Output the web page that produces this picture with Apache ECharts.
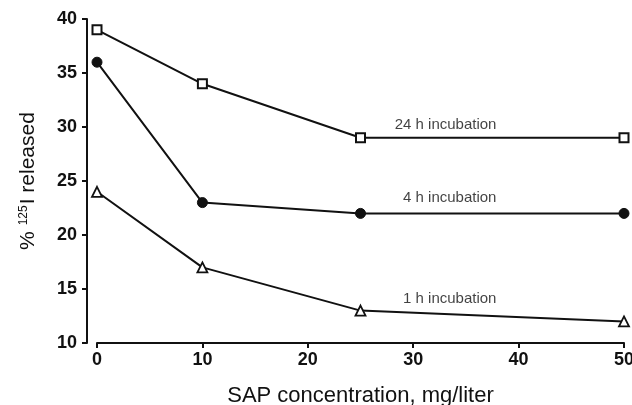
<!DOCTYPE html>
<html>
<head>
<meta charset="utf-8">
<script src="https://cdn.jsdelivr.net/npm/echarts@6/dist/echarts.min.js"></script>
<style>
  html, body { margin: 0; padding: 0; background: #fff; }
  #chart { width: 632px; height: 405px; }
</style>
</head>
<body>
<div id="chart"></div>
<script>
// SAP concentration, mg/liter
var sapConc = [0, 10, 25, 50]
// % 125I released
var h24 = [39, 34, 29, 29]
var h4 = [36, 23, 22, 22]
var h1 = [24, 17, 13, 12]
var xTicks = [0, 10, 20, 30, 40, 50]
var yTicks = [10, 15, 20, 25, 30, 35, 40]
// curve labels: [name, x, y] (text is right aligned at x)
var curveLabels = [
  ['24 h incubation', 37.9, 30.2],
  ['4 h incubation', 37.9, 23.4],
  ['1 h incubation', 37.9, 14.1]
]

function pairs(ys) {
  var out = []
  for (var i = 0; i < sapConc.length; i++) {
    out.push([sapConc[i], ys[i]])
  }
  return out
}

var font = 'Liberation Sans, Arial, Helvetica, sans-serif'
var ink = '#111'

var chart = echarts.init(document.getElementById('chart'), null, { renderer: 'canvas' })
var option = {
  backgroundColor: '#fff',
  animation: false,
  grid: { left: 97, right: 8, top: 19, bottom: 62, containLabel: false, outerBoundsMode: 'none' },
  xAxis: {
    type: 'value',
    min: xTicks[0],
    max: xTicks[xTicks.length - 1],
    interval: 10,
    name: 'SAP concentration, mg/liter',
    nameLocation: 'middle',
    nameGap: 42,
    nameTextStyle: { fontFamily: font, fontSize: 22, color: ink },
    axisLine: { onZero: false, lineStyle: { color: ink, width: 2 } },
    axisTick: { inside: false, length: 5, lineStyle: { color: ink, width: 2 } },
    axisLabel: { margin: 8, fontFamily: font, fontSize: 18, fontWeight: 'bold', color: ink },
    splitLine: { show: false }
  },
  yAxis: {
    type: 'value',
    min: yTicks[0],
    max: yTicks[yTicks.length - 1],
    interval: 5,
    offset: 10,
    name: '{a|% }{sup|125}{a|I released}',
    nameLocation: 'middle',
    nameRotate: 90,
    nameGap: 48,
    nameTextStyle: {
      fontFamily: font,
      fontSize: 21,
      color: ink,
      rich: {
        a: { fontFamily: font, fontSize: 21, color: ink },
        sup: { fontFamily: font, fontSize: 12, color: ink, verticalAlign: 'bottom', padding: [0, 1, 9, 0] }
      }
    },
    axisLine: { show: true, onZero: false, lineStyle: { color: ink, width: 2 } },
    axisTick: { show: true, length: 5, lineStyle: { color: ink, width: 2 } },
    axisLabel: { margin: 10, fontFamily: font, fontSize: 18, fontWeight: 'bold', color: ink },
    splitLine: { show: false }
  },
  series: [
    {
      name: '24 h',
      type: 'line',
      data: pairs(h24),
      clip: false,
      symbol: 'rect',
      symbolSize: 9,
      lineStyle: { color: ink, width: 2 },
      itemStyle: { color: '#fff', borderColor: ink, borderWidth: 2 }
    },
    {
      name: '4 h',
      type: 'line',
      data: pairs(h4),
      clip: false,
      symbol: 'circle',
      symbolSize: 10,
      lineStyle: { color: ink, width: 2 },
      itemStyle: { color: ink, borderColor: ink, borderWidth: 1 }
    },
    {
      name: '1 h',
      type: 'line',
      data: pairs(h1),
      clip: false,
      symbol: 'triangle',
      symbolSize: 10,
      lineStyle: { color: ink, width: 2 },
      itemStyle: { color: '#fff', borderColor: ink, borderWidth: 1.8 }
    },
    {
      name: 'labels',
      type: 'scatter',
      data: curveLabels.map(function (d) { return { value: [d[1], d[2]], name: d[0] } }),
      symbolSize: 0,
      silent: true,
      label: {
        show: true,
        position: 'left',
        distance: 0,
        formatter: '{b}',
        fontFamily: font,
        fontSize: 15,
        color: ink
      }
    }
  ]
}
chart.setOption(option)
</script>
</body>
</html>
